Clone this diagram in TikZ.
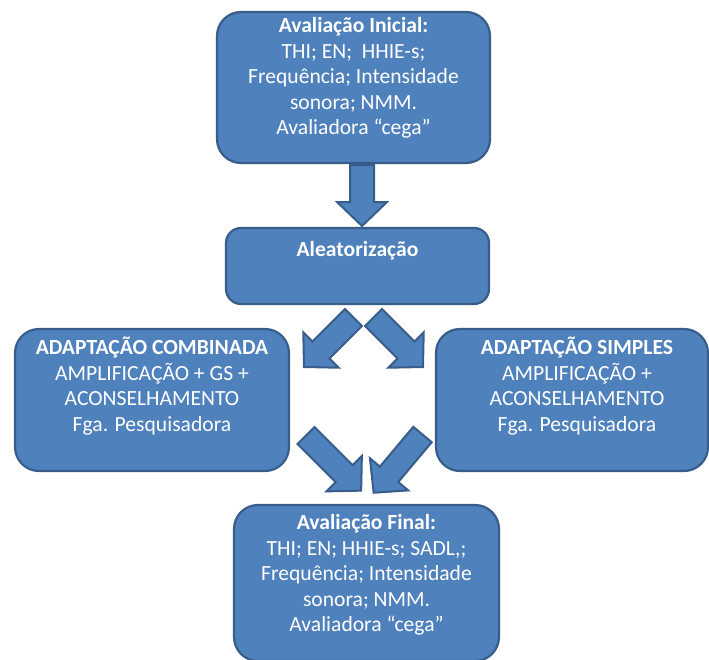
\documentclass[tikz,border=0pt]{standalone}
\usepackage{fontspec}
\setmainfont{Carlito}
\definecolor{boxfill}{RGB}{79,129,189}
\definecolor{boxline}{RGB}{56,93,138}
\begin{document}
\begin{tikzpicture}[x=1pt,y=-1pt,
  box/.style={draw=boxline, fill=boxfill, line width=2.2pt, rounded corners=#1, inner sep=0pt},
  box/.default=24pt,
  txt/.style={text=white, align=center, inner sep=0pt, font=\fontsize{21.6}{25.4}\selectfont},
  arrowstyle/.style={draw=boxline, fill=boxfill, line width=2pt, line join=miter},
  blockarrow/.pic={\path[arrowstyle] (0,12) -- (#1,12) -- (#1,25) -- (#1+24,0) -- (#1,-25) -- (#1,-12) -- (0,-12) -- cycle;}
]
\useasboundingbox (0,0) rectangle (709,659);
\clip (0,0) rectangle (709,659);

% boxes
\node[box, minimum width=273pt, minimum height=151pt] (init) at (353.5,87.5) {};
\node[box=15pt, minimum width=263pt, minimum height=76pt] (rand) at (357.5,266) {};
\node[box, minimum width=274pt, minimum height=142pt] (comb) at (152,400) {};
\node[box, minimum width=272pt, minimum height=142pt] (simp) at (572,400) {};
\node[box, minimum width=265pt, minimum height=156pt] (final) at (366.5,583) {};

% texts
\node[txt] (initT) at (353.5,78) {\textbf{Avaliação Inicial:}\\THI; EN;\ \ HHIE-s;\\Frequência; Intensidade\\sonora; NMM.\\Avaliadora “cega”};
\node[txt] (randT) at (357.5,251) {\textbf{Aleatorização}};
\node[txt] (combT) at (152,386) {\textbf{ADAPTAÇÃO COMBINADA}\\AMPLIFICAÇÃO + GS +\\ACONSELHAMENTO\\Fga. Pesquisadora};
\node[txt] (simpT) at (577,386) {\textbf{ADAPTAÇÃO SIMPLES}\\AMPLIFICAÇÃO +\\ACONSELHAMENTO\\Fga. Pesquisadora};
\node[txt] (finalT) at (366.5,575) {\textbf{Avaliação Final:}\\THI; EN; HHIE-s; SADL,;\\Frequência; Intensidade\\sonora; NMM.\\Avaliadora “cega”};

% block arrows
\pic[rotate=-90] at (362,165) {blockarrow=37};
\pic[rotate=-135] at (353.5,317.5) {blockarrow=46};
\pic[rotate=-45] at (373.5,317.5) {blockarrow=46};
\pic[rotate=-45] at (306,435.5) {blockarrow=54};
\pic[rotate=-130] at (422.5,434.5) {blockarrow=52};
\end{tikzpicture}
\end{document}
